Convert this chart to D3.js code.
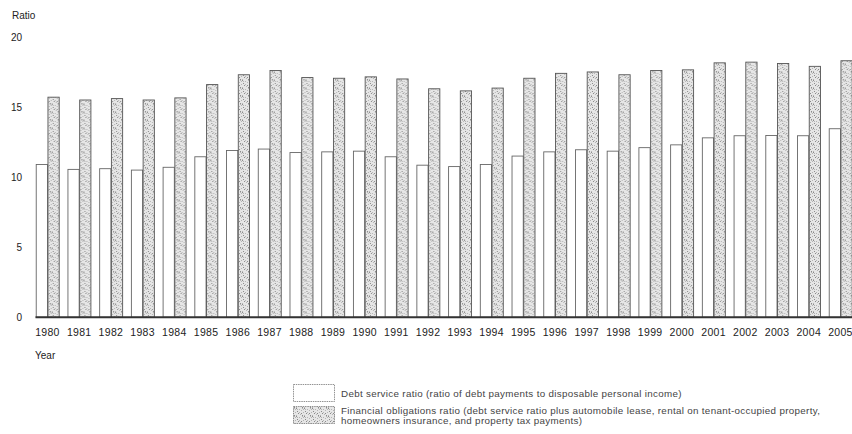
<!DOCTYPE html>
<html>
<head>
<meta charset="utf-8">
<script src="https://cdn.jsdelivr.net/npm/d3@7"></script>
<style>
  html, body { margin: 0; padding: 0; background: #fff; }
  svg { display: block; font-family: "Liberation Sans", Arial, sans-serif; }
</style>
</head>
<body>
<svg id="chart" width="852" height="434"></svg>
<script>
// Household debt burden, 1980-2005
const years = ["1980","1981","1982","1983","1984","1985","1986","1987","1988","1989","1990","1991","1992",
               "1993","1994","1995","1996","1997","1998","1999","2000","2001","2002","2003","2004","2005"];
const debtService = [10.9, 10.55, 10.6, 10.5, 10.7, 11.45, 11.9, 12.0, 11.75, 11.8, 11.85, 11.45, 10.85,
                     10.75, 10.9, 11.5, 11.8, 11.95, 11.85, 12.1, 12.3, 12.8, 12.95, 12.97, 12.95, 13.45];
const financialObligations = [15.7, 15.5, 15.6, 15.5, 15.65, 16.6, 17.3, 17.6, 17.1, 17.05, 17.15, 17.0, 16.3,
                              16.15, 16.35, 17.05, 17.4, 17.5, 17.3, 17.6, 17.65, 18.15, 18.2, 18.1, 17.9, 18.3];
const seriesKeys = ["debt", "fin"];
const yTicks = [0, 5, 10, 15, 20];
const legendLines = [
  ["Debt service ratio (ratio of debt payments to disposable personal income)"],
  ["Financial obligations ratio (debt service ratio plus automobile lease, rental on tenant-occupied property,",
   "homeowners insurance, and property tax payments)"]
];

const svg = d3.select("#chart");

// stippled fill for the financial obligations bars
const dots = [[0,0],[3,1],[6,0],[1,3],[5,2],[7,4],[2,5],[4,6],[0,7],[6,7],[3,4],[1,1],[5,5],[7,1]];
const pat = svg.append("defs").append("pattern")
  .attr("id", "stipple").attr("patternUnits", "userSpaceOnUse")
  .attr("width", 8).attr("height", 8);
pat.append("rect").attr("width", 8).attr("height", 8).attr("fill", "#e6e6e6");
pat.selectAll("rect.dot").data(dots).join("rect").attr("class", "dot")
  .attr("x", d => d[0]).attr("y", d => d[1]).attr("width", 1).attr("height", 1)
  .attr("fill", (d, i) => i % 3 === 0 ? "#8a8a8a" : "#b4b4b4");

const y = d3.scaleLinear().domain([0, 20]).range([317.3, 36.9]);
const step = 31.72;
const x0 = d3.scaleBand().domain(years)
  .range([31.6, 31.6 + years.length * step])
  .paddingInner(0.26).paddingOuter(0.13);
const x1 = d3.scaleBand().domain(seriesKeys).range([0, x0.bandwidth()]);

const rows = years.map((yr, i) => ({ year: yr, debt: debtService[i], fin: financialObligations[i] }));

const groups = svg.append("g").selectAll("g").data(rows).join("g")
  .attr("transform", d => `translate(${x0(d.year)},0)`);

groups.selectAll("rect").data(d => seriesKeys.map(k => ({ key: k, value: d[k] }))).join("rect")
  .attr("x", d => x1(d.key) + 0.5)
  .attr("y", d => y(d.value))
  .attr("width", x1.bandwidth() - 0.5)
  .attr("height", d => y(0) - y(d.value))
  .attr("fill", d => d.key === "debt" ? "#ffffff" : "url(#stipple)")
  .attr("stroke", d => d.key === "debt" ? "#666" : "#555")
  .attr("stroke-width", 0.9);

// y axis labels
svg.append("g").selectAll("text").data(yTicks).join("text")
  .attr("x", 22).attr("y", d => y(d)).attr("dy", "0.38em")
  .attr("text-anchor", "end").attr("font-size", 10).attr("fill", "#222")
  .text(d => d);

svg.append("text").attr("x", 12).attr("y", 18.5)
  .attr("font-size", 10).attr("fill", "#222").text("Ratio");

// x axis
const xAxis = svg.append("g").attr("transform", `translate(0,${y(0)})`)
  .call(d3.axisBottom(x0).tickSize(0).tickPadding(11));
xAxis.select(".domain").attr("stroke", "#333").attr("stroke-width", 2)
  .attr("d", `M35.5,0H852`);
xAxis.selectAll("text").attr("font-size", 10.5).attr("fill", "#222")
  .attr("font-family", "Liberation Sans, Arial, sans-serif").attr("letter-spacing", 0.3);

svg.append("text").attr("x", 35).attr("y", 359)
  .attr("font-size", 10).attr("fill", "#222").text("Year");

// legend
const legend = svg.append("g");
const boxes = [{ y: 384, fill: "#ffffff" }, { y: 406, fill: "url(#stipple)" }];
legend.selectAll("rect").data(boxes).join("rect")
  .attr("x", 293.5).attr("y", d => d.y + 0.5).attr("width", 41).attr("height", 17)
  .attr("fill", d => d.fill).attr("stroke", "#777").attr("stroke-width", 0.8)
  .attr("stroke-dasharray", "1.5,0.8");

const baselines = [[397], [414.3, 424.3]];
legendLines.forEach((lines, i) => {
  lines.forEach((t, j) => {
    legend.append("text").attr("x", 341).attr("y", baselines[i][j])
      .attr("font-size", 9.8).attr("letter-spacing", 0.32).attr("fill", "#444").text(t);
  });
});
</script>
</body>
</html>
